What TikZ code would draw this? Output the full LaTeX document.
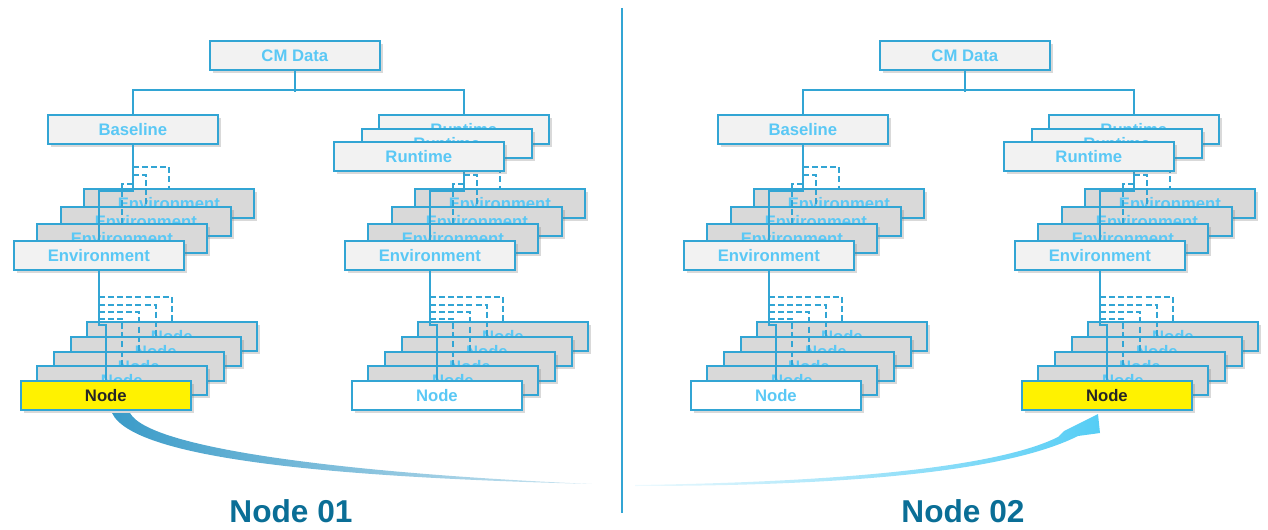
\documentclass[tikz,border=0pt]{standalone}
\usepackage{fontspec}
\setmainfont{Liberation Sans}
\usetikzlibrary{shadows}
\definecolor{cmline}{RGB}{50,165,212}
\definecolor{cmtext}{RGB}{90,200,245}
\definecolor{cmlight}{RGB}{242,242,242}
\definecolor{cmgray}{RGB}{217,217,217}
\definecolor{cmtitle}{RGB}{10,110,150}
\definecolor{swoopL}{RGB}{58,155,200}
\definecolor{swoopR}{RGB}{85,205,245}
\begin{document}
\begin{tikzpicture}[x=0.02cm, y=-0.02cm,
	box/.style={draw=cmline, line width=1pt, fill=cmlight, text=cmtext, anchor=north west,
		minimum width=3.4cm, minimum height=0.58cm, inner sep=0pt,
		font=\fontsize{9.5}{11}\selectfont\bfseries,
		drop shadow={shadow xshift=1.8pt, shadow yshift=-1.8pt, opacity=0.3}},
	backbox/.style={box, fill=cmgray},
	link/.style={cmline, line width=1.1pt},
	dlink/.style={link, dash pattern=on 3.4pt off 1.8pt},
	title/.style={text=cmtitle, font=\fontsize{18}{20}\selectfont\bfseries}]
	\useasboundingbox (0,0) rectangle (1268,530);
	\node [box] (cmL) at (209,40) {CM Data};
	\node [box] (cmR) at (879,40) {CM Data};
	\foreach \ox/\k/\tl/\nf/\nt in {0/a/Baseline/yellow/black!85, 331/b/Runtime/white/cmtext, 670/c/Baseline/white/cmtext, 1001/d/Runtime/yellow/black!85} {
		\node [box] (t\k) at (\ox+47,114) {\tl};
		\node [backbox] (e\k3) at (\ox+83,188) {Environment};
		\node [backbox] (e\k2) at (\ox+60,206) {Environment};
		\node [backbox] (e\k1) at (\ox+36,223) {Environment};
		\node [box] (e\k0) at (\ox+13,240) {Environment};
		\node [backbox] (n\k4) at (\ox+86,321) {Node};
		\node [backbox] (n\k3) at (\ox+70,336) {Node};
		\node [backbox] (n\k2) at (\ox+53,351) {Node};
		\node [backbox] (n\k1) at (\ox+36,365) {Node};
		\node [box, fill=\nf, text=\nt] (n\k0) at (\ox+20,380) {Node};
		\draw [link] (t\k.south) -- ++(0,46) -| (e\k0.north);
		\draw [dlink] (t\k.south) ++(0,22) -| (e\k3.north);
		\draw [dlink] (t\k.south) ++(0,30) -| (e\k2.north);
		\draw [dlink] (t\k.south) ++(0,39) -| (e\k1.north);
		\draw [link] (e\k0.south) -- ++(0,54) -| (n\k0.north);
		\draw [dlink] (e\k0.south) ++(0,26) -| (n\k4.north);
		\draw [dlink] (e\k0.south) ++(0,34) -| (n\k3.north);
		\draw [dlink] (e\k0.south) ++(0,41) -| (n\k2.north);
		\draw [dlink] (e\k0.south) ++(0,48) -| (n\k1.north);
	}
	\foreach \ox/\k in {331/b, 1001/d} {
		\node [box] (r\k1) at (\ox+30,128) {Runtime};
		\node [box] (r\k0) at (\ox+2,141) {Runtime};
	}
	\draw [link] (ta.north) -- ++(0,-24) -| (tb.north) (cmL.south) -- ++(0,21);
	\draw [link] (tc.north) -- ++(0,-24) -| (td.north) (cmR.south) -- ++(0,21);
	\draw [cmline, line width=1.1pt] (622,8) -- (622,513);
	\shade [left color=swoopL, right color=swoopL!25] (112,413) .. controls (135,462) and (360,478) .. (592,484) .. controls (360,474) and (150,450) .. (130,413) -- cycle;
	\shade [left color=swoopR!10, right color=swoopR] (635,485) .. controls (850,482) and (1000,466) .. (1058,437) -- (1064,431) -- (1098,414) -- (1100,433) -- (1078,436) .. controls (1010,470) and (860,486) .. (635,486) -- cycle;
	\node [title] (lbl1) at (291,511) {Node 01};
	\node [title] (lbl2) at (963,511) {Node 02};
\end{tikzpicture}
\end{document}
